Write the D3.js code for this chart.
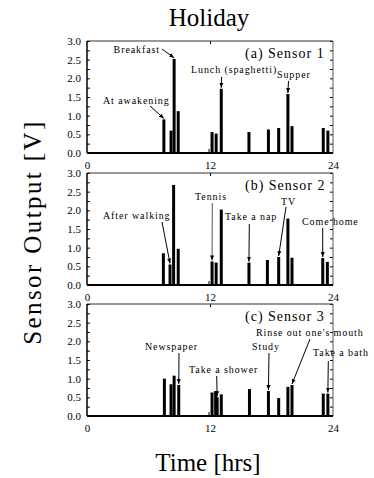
<!DOCTYPE html>
<html><head><meta charset="utf-8">
<script src="https://cdn.jsdelivr.net/npm/d3@7"></script>
<style>body{margin:0;background:#fff}svg{display:block}text{font-family:"Liberation Serif","Times New Roman",serif}</style>
</head><body>
<script>
// ---- data ----
const sensorNames = ["(a) Sensor 1", "(b) Sensor 2", "(c) Sensor 3"];
const s1Hours = [7.5, 8.2, 8.5, 8.9, 12.2, 12.6, 13.1, 15.8, 17.7, 18.7, 19.6, 20.0, 23.05, 23.5];
const s1Values = [0.9, 0.6, 2.52, 1.12, 0.56, 0.52, 1.72, 0.56, 0.63, 0.67, 1.58, 0.72, 0.67, 0.6];
const s2Hours = [7.45, 8.1, 8.45, 8.9, 12.2, 12.6, 13.1, 15.8, 17.6, 18.7, 19.6, 20.0, 23.0, 23.45];
const s2Values = [0.85, 0.55, 2.68, 0.97, 0.63, 0.6, 2.02, 0.6, 0.67, 0.75, 1.78, 0.73, 0.72, 0.62];
const s3Hours = [7.55, 8.2, 8.5, 8.95, 12.2, 12.55, 12.7, 13.1, 15.85, 17.7, 18.7, 19.6, 20.0, 23.05, 23.5];
const s3Values = [1.0, 0.85, 1.08, 0.83, 0.63, 0.67, 0.5, 0.58, 0.72, 0.67, 0.48, 0.78, 0.83, 0.6, 0.6];
const xTicks = [0, 12, 24];
const yTicks = [0, 0.5, 1.0, 1.5, 2.0, 2.5, 3.0];
const annLabels = [
  ["At awakening", "Breakfast", "Lunch (spaghetti)", "Supper"],
  ["After walking", "Tennis", "Take a nap", "TV", "Come home"],
  ["Newspaper", "Take a shower", "Study", "Rinse out one's mouth", "Take a bath"]
];
const annHours = [
  [7.5, 8.5, 13.1, 19.6],
  [8.1, 12.2, 15.8, 18.7, 23.0],
  [8.95, 12.7, 17.7, 20.0, 23.5]
];
const annValues = [
  [0.9, 2.52, 1.72, 1.58],
  [0.55, 0.63, 0.6, 0.75, 0.72],
  [0.83, 0.5, 0.67, 0.83, 0.6]
];

// ---- layout ----
const W = 374, H = 478;
const left = 87, right = 333, ph = 112;
const tops = [41, 173, 304];
const annLayout = [
  [{t:[103,63,"start"], a:[150,65]}, {t:[160,12,"end"], a:[162,8]}, {t:[191,32,"start"], a:[221.5,36]}, {t:[277,37,"start"], a:[288.5,40]}],
  [{t:[103,46,"start"], a:[162,49]}, {t:[195,27,"start"], a:[212.3,30], c:"#555"}, {t:[225,47,"start"], a:[249.3,51]}, {t:[281,32,"start"], a:[286,34]}, {t:[302,52,"start"], a:[322.7,55]}],
  [{t:[145,46,"start"], a:[179,49]}, {t:[189,69,"start"], a:[216.7,72]}, {t:[252,46,"start"], a:[269,49]}, {t:[256,32,"start"], a:[310,35]}, {t:[313,52,"start"], a:[328.3,57]}]
];

const svg = d3.select("body").append("svg").attr("width", W).attr("height", H);
svg.append("defs").append("marker").attr("id","ah").attr("viewBox","0 0 10 10")
  .attr("refX",10).attr("refY",5).attr("markerWidth",5).attr("markerHeight",5)
  .attr("orient","auto").attr("markerUnits","userSpaceOnUse")
  .append("path").attr("d","M0,1 L10,5 L0,9 Z").attr("fill","#000");

const x = d3.scaleLinear().domain([0, 24]).range([left, right]);

svg.append("text").attr("x", 209).attr("y", 26).attr("text-anchor","middle")
  .attr("font-size", 25).text("Holiday");
svg.append("text").attr("x", 208).attr("y", 471).attr("text-anchor","middle")
  .attr("font-size", 25).text("Time [hrs]");
svg.append("text").attr("transform","translate(41,232) rotate(-90)").attr("text-anchor","middle")
  .attr("font-size", 25).style("letter-spacing", "2.4px").text("Sensor Output [V]");

const allHours = [s1Hours, s2Hours, s3Hours];
const allValues = [s1Values, s2Values, s3Values];

tops.forEach((top, i) => {
  const y = d3.scaleLinear().domain([0, 3]).range([top + ph, top]);
  const g = svg.append("g");
  const bars = allHours[i].map((h, j) => ({h, v: allValues[i][j]}));
  g.selectAll("rect").data(bars).join("rect")
    .attr("x", d => x(d.h) - 1.5).attr("width", 3)
    .attr("y", d => y(d.v)).attr("height", d => y(0) - y(d.v)).attr("fill", "#000");

  const yl = d3.axisLeft(y).tickValues(yTicks).tickSize(0).tickPadding(6).tickFormat(d3.format(".1f"));
  const ga = g.append("g").attr("transform", `translate(${left},0)`).call(yl);
  ga.select(".domain").remove();
  ga.selectAll("text").attr("font-size", 11);
  const minor = d3.range(0, 3.01, 0.25);
  g.append("g").attr("transform", `translate(${left},0)`)
    .call(d3.axisRight(y).tickValues(minor).tickSize(3).tickFormat(""))
    .call(s => s.select(".domain").remove());
  g.append("g").attr("transform", `translate(${right},0)`)
    .call(d3.axisLeft(y).tickValues(minor).tickSize(3).tickFormat(""))
    .call(s => s.select(".domain").remove());
  const xb = d3.axisBottom(x).tickValues(xTicks).tickSize(0).tickPadding(8).tickFormat(d3.format("d"));
  const gx = g.append("g").attr("transform", `translate(0,${top + ph})`).call(xb);
  gx.select(".domain").remove();
  gx.selectAll("text").attr("font-size", 11);
  g.append("g").attr("transform", `translate(-1.5,${top + ph})`)
    .call(d3.axisTop(x).tickValues([12]).tickSize(4).tickFormat(""))
    .call(s => s.select(".domain").remove());
  g.append("g").attr("transform", `translate(0,${top})`)
    .call(d3.axisBottom(x).tickValues([12]).tickSize(3).tickFormat(""))
    .call(s => s.select(".domain").remove());
  g.append("line").attr("x1", left).attr("x2", right).attr("y1", top).attr("y2", top).attr("stroke", "#333").attr("stroke-width", 1.2);
  g.append("line").attr("x1", right).attr("x2", right).attr("y1", top).attr("y2", top + ph).attr("stroke", "#555").attr("stroke-width", 1);
  g.append("line").attr("x1", left).attr("x2", left).attr("y1", top).attr("y2", top + ph).attr("stroke", "#000").attr("stroke-width", 1.5);
  g.append("line").attr("x1", left).attr("x2", right).attr("y1", top + ph).attr("y2", top + ph).attr("stroke", "#000").attr("stroke-width", 2);

  g.append("text").attr("x", 245).attr("y", top + 17).attr("font-size", 14)
    .style("letter-spacing", "1px").text(sensorNames[i]);

  annLabels[i].forEach((lab, j) => {
    const L = annLayout[i][j];
    const col = L.c || "#000";
    g.append("text").attr("x", L.t[0]).attr("y", top + L.t[1]).attr("text-anchor", L.t[2])
      .attr("font-size", 10).style("letter-spacing", "0.9px").attr("fill", "#000").text(lab);
    g.append("line").attr("x1", L.a[0]).attr("y1", top + L.a[1])
      .attr("x2", x(annHours[i][j])).attr("y2", y(annValues[i][j]) - 1)
      .attr("stroke", col).attr("stroke-width", 1).attr("marker-end", "url(#ah)");
  });
});
</script>
</body></html>
